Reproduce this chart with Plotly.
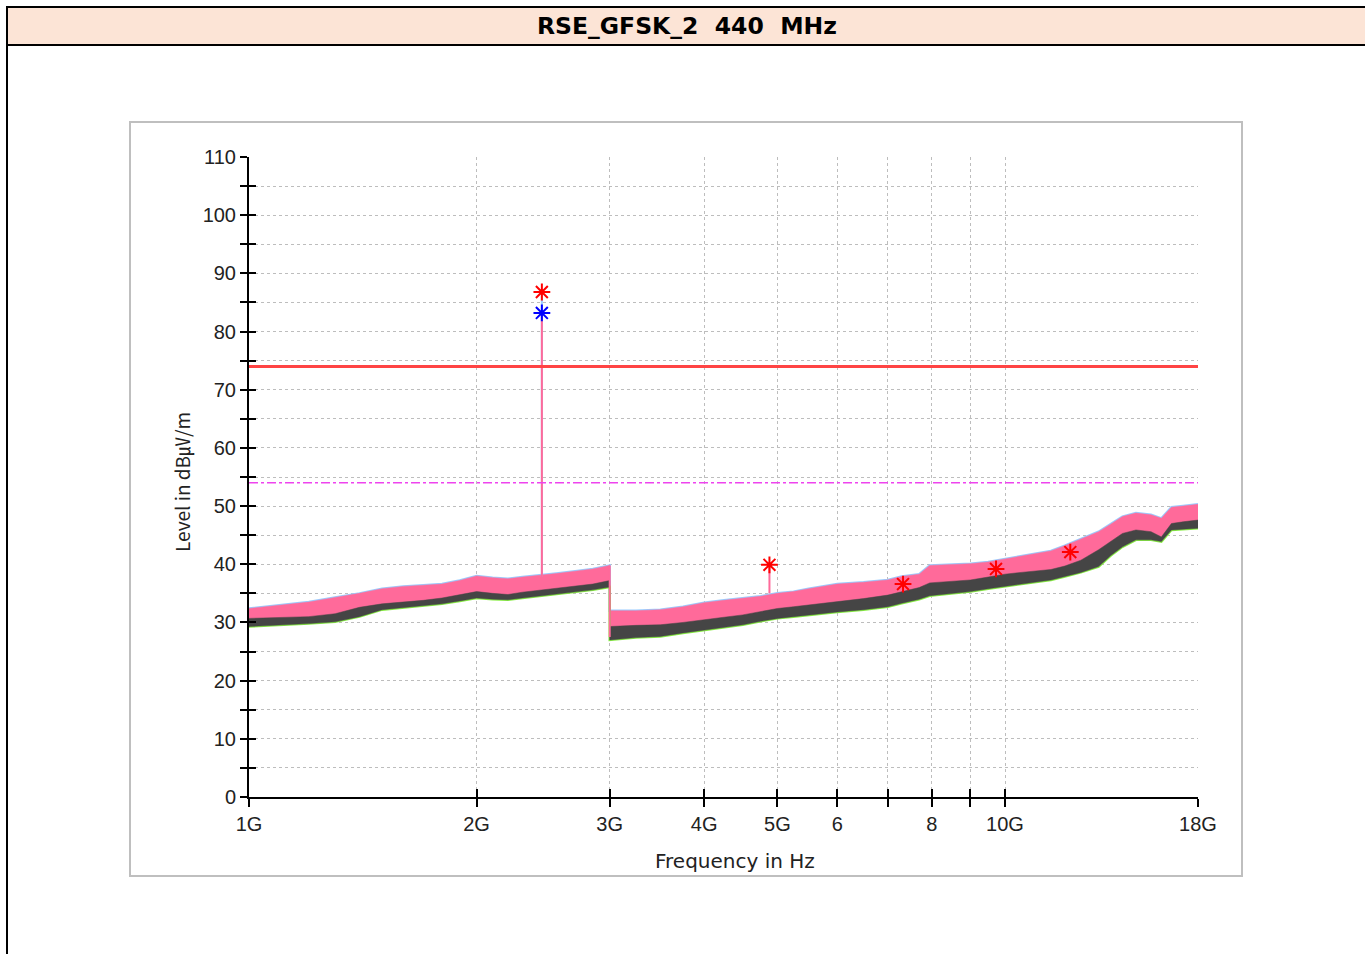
import math
import plotly.graph_objects as go

# ---------------- data (frequencies in GHz, levels in dBuV/m) ----------------
freq_a = [1.0, 1.1, 1.2, 1.3, 1.4, 1.5, 1.6, 1.7, 1.8, 1.9, 2.0, 2.1, 2.2, 2.3, 2.44, 2.55, 2.7, 2.85, 3.0]
peak_hi_a = [32.4, 33.0, 33.5, 34.3, 35.0, 35.8, 36.2, 36.4, 36.6, 37.2, 38.0, 37.7, 37.5, 37.8, 38.1, 38.4, 38.8, 39.2, 39.8]
avg_hi_a = [30.7, 30.8, 31.0, 31.5, 32.6, 33.2, 33.5, 33.8, 34.2, 34.8, 35.3, 35.0, 34.8, 35.2, 35.6, 35.9, 36.3, 36.6, 37.2]
avg_lo_a = [29.3, 29.5, 29.8, 30.1, 31.0, 32.2, 32.6, 32.9, 33.2, 33.7, 34.2, 34.0, 33.9, 34.2, 34.6, 34.9, 35.3, 35.6, 36.1]

freq_b = [3.0, 3.25, 3.5, 3.75, 4.0, 4.25, 4.5, 4.75, 5.0, 5.25, 5.5, 6.0, 6.5, 7.0, 7.3, 7.7, 7.95,
          8.5, 9.0, 9.5, 10.0, 10.5, 11.0, 11.5, 12.0, 12.6, 13.3, 13.8, 14.3, 14.9, 15.6, 16.1, 16.6, 17.2, 18.0]
peak_hi_b = [32.0, 32.0, 32.2, 32.7, 33.4, 33.8, 34.2, 34.5, 35.0, 35.3, 35.8, 36.6, 36.9, 37.3, 37.9, 38.3, 39.8,
             40.0, 40.1, 40.4, 40.9, 41.4, 41.9, 42.3, 43.2, 44.4, 45.6, 46.9, 48.2, 48.8, 48.5, 47.9, 49.8, 50.0, 50.3]
avg_hi_b = [29.3, 29.5, 29.6, 30.0, 30.4, 30.9, 31.3, 31.8, 32.4, 32.7, 33.0, 33.6, 34.1, 34.7, 35.3, 36.0, 36.8,
            37.1, 37.3, 37.8, 38.3, 38.6, 38.8, 39.1, 39.7, 40.7, 42.5, 44.0, 45.3, 45.9, 45.6, 44.7, 47.0, 47.3, 47.6]
avg_lo_b = [27.0, 27.4, 27.6, 28.2, 28.7, 29.2, 29.6, 30.2, 30.7, 31.0, 31.3, 31.8, 32.2, 32.7, 33.3, 34.0, 34.6,
            35.0, 35.3, 35.8, 36.2, 36.5, 36.9, 37.3, 37.9, 38.6, 39.6, 41.5, 43.0, 44.2, 44.2, 43.9, 45.9, 46.0, 46.2]

# band-edge drop at 3 GHz
drop_freq = [3.0, 3.0]
drop_levels = [39.8, 27.5]

# carrier spike (2.44 GHz) and harmonic spike (4.88 GHz)
spike_blue_freq = [2.44, 2.44]
spike_blue_levels = [37.8, 86.8]
spike_pink_freq = [2.44, 2.44]
spike_pink_levels = [37.8, 83.2]
spike2_freq = [4.88, 4.88]
spike2_levels = [35.0, 39.9]

# markers
peak_marker_freqs = [2.44, 4.88, 7.33, 9.73, 12.2]
peak_marker_levels = [86.8, 39.9, 36.6, 39.2, 42.1]
avg_marker_freqs = [2.44]
avg_marker_levels = [83.2]

# limits
limit_freqs = [1.0, 18.0]
limit_peak = [74, 74]
limit_avg = [54, 54]

# ticks
x_tick_vals = [1, 2, 3, 4, 5, 6, 7, 8, 9, 10, 18]
x_tick_text = ["1G", "2G", "3G", "4G", "5G", "6", "", "8", "", "10G", "18G"]
y_tick_vals = list(range(0, 111, 5))
y_tick_text = [str(v) if v % 10 == 0 else "" for v in y_tick_vals]

# ---------------- layout geometry (pixels) ----------------
W, H = 1365, 954
PL, PR, PT, PB = 249, 1198, 157, 797


def px(xp):
    return (xp - PL) / (PR - PL)


def py(yp):
    return (PB - yp) / (PB - PT)


freq = freq_a + freq_b
peak_hi = peak_hi_a + peak_hi_b
avg_hi = avg_hi_a + avg_hi_b
avg_lo = avg_lo_a + avg_lo_b

PINK = "#FF6A9A"
LBLUE = "#99CCFF"
GREY = "#454545"
GREEN = "#88EE44"

fig = go.Figure()

# light blue peak trace fringe
fig.add_trace(go.Scatter(x=freq, y=peak_hi, mode="lines", line=dict(color=LBLUE, width=2.5),
                         hoverinfo="skip", showlegend=False))
# pink peak band
fig.add_trace(go.Scatter(x=freq, y=avg_lo, mode="lines", line=dict(width=0, color=PINK),
                         hoverinfo="skip", showlegend=False))
fig.add_trace(go.Scatter(x=freq, y=peak_hi, mode="lines", line=dict(width=0.5, color=PINK),
                         fill="tonexty", fillcolor=PINK, hoverinfo="skip", showlegend=False))
# green average fringe
fig.add_trace(go.Scatter(x=freq, y=avg_lo, mode="lines", line=dict(color=GREEN, width=2.5),
                         hoverinfo="skip", showlegend=False))
# grey average band
fig.add_trace(go.Scatter(x=freq, y=avg_lo, mode="lines", line=dict(width=0.5, color=GREY),
                         hoverinfo="skip", showlegend=False))
fig.add_trace(go.Scatter(x=freq, y=avg_hi, mode="lines", line=dict(width=0.5, color=GREY),
                         fill="tonexty", fillcolor=GREY, hoverinfo="skip", showlegend=False))
# drop at 3 GHz
fig.add_trace(go.Scatter(x=drop_freq, y=drop_levels, mode="lines", line=dict(color=PINK, width=2),
                         hoverinfo="skip", showlegend=False))
# spikes
fig.add_trace(go.Scatter(x=spike_blue_freq, y=spike_blue_levels, mode="lines", line=dict(color=LBLUE, width=2),
                         hoverinfo="skip", showlegend=False))
fig.add_trace(go.Scatter(x=spike_pink_freq, y=spike_pink_levels, mode="lines", line=dict(color=PINK, width=2),
                         hoverinfo="skip", showlegend=False))
fig.add_trace(go.Scatter(x=spike2_freq, y=spike2_levels, mode="lines", line=dict(color=PINK, width=2),
                         hoverinfo="skip", showlegend=False))
# limits
fig.add_trace(go.Scatter(x=limit_freqs, y=limit_peak, mode="lines", line=dict(color="#FF4444", width=3),
                         hoverinfo="skip", showlegend=False))
fig.add_trace(go.Scatter(x=limit_freqs, y=limit_avg, mode="lines",
                         line=dict(color="#EE44EE", width=1.5, dash="dashdot"),
                         hoverinfo="skip", showlegend=False))
# markers
fig.add_trace(go.Scatter(x=peak_marker_freqs, y=peak_marker_levels, mode="markers",
                         marker=dict(symbol="asterisk-open", size=14, color="#FF0000",
                                     line=dict(color="#FF0000", width=2)),
                         hoverinfo="skip", showlegend=False))
fig.add_trace(go.Scatter(x=avg_marker_freqs, y=avg_marker_levels, mode="markers",
                         marker=dict(symbol="asterisk-open", size=14, color="#0000FF",
                                     line=dict(color="#0000FF", width=2)),
                         hoverinfo="skip", showlegend=False))
# empty trace on overlay axes (for crossing ticks)
fig.add_trace(go.Scatter(x=[], y=[], xaxis="x2", yaxis="y2", showlegend=False))

tick_font = dict(family="Liberation Sans, Arial, sans-serif", size=20, color="#222222")
xr = [0, math.log10(18)]

fig.update_layout(
    width=W, height=H,
    margin=dict(l=PL, r=W - PR, t=PT, b=H - PB),
    paper_bgcolor="white", plot_bgcolor="white",
    showlegend=False,
    xaxis=dict(type="log", range=xr, tickvals=x_tick_vals, ticktext=x_tick_text,
               ticks="outside", ticklen=8, tickwidth=2, tickcolor="black",
               showline=True, linecolor="black", linewidth=2, zeroline=False,
               showgrid=True, gridcolor="#BDBDBD", gridwidth=1, griddash="dot",
               tickfont=tick_font, fixedrange=True),
    yaxis=dict(range=[0, 110], tickvals=y_tick_vals, ticktext=y_tick_text,
               ticks="outside", ticklen=7, tickwidth=2, tickcolor="black",
               showline=True, linecolor="black", linewidth=2, zeroline=False,
               showgrid=True, gridcolor="#BDBDBD", gridwidth=1, griddash="dot",
               tickfont=tick_font, fixedrange=True),
    xaxis2=dict(type="log", range=xr, overlaying="x", anchor="y", side="bottom",
                tickvals=x_tick_vals, ticks="inside", ticklen=8, tickwidth=2, tickcolor="black",
                showticklabels=False, showgrid=False, showline=False, zeroline=False),
    yaxis2=dict(range=[0, 110], overlaying="y", anchor="x", side="left",
                tickvals=y_tick_vals, ticks="inside", ticklen=7, tickwidth=2, tickcolor="black",
                showticklabels=False, showgrid=False, showline=False, zeroline=False),
    shapes=[
        # title bar
        dict(type="rect", xref="paper", yref="paper", x0=px(7), x1=px(1368), y0=py(45), y1=py(7),
             fillcolor="#FCE4D6", line=dict(color="black", width=2), layer="below"),
        # left frame line
        dict(type="line", xref="paper", yref="paper", x0=px(7), x1=px(7), y0=py(45), y1=py(960),
             line=dict(color="black", width=2)),
        # chart panel
        dict(type="rect", xref="paper", yref="paper", x0=px(130), x1=px(1242), y0=py(876), y1=py(122),
             fillcolor="rgba(0,0,0,0)", line=dict(color="#BFBFBF", width=2), layer="below"),
    ],
    annotations=[
        dict(text="RSE_GFSK_2  440  MHz", xref="paper", yref="paper", x=px(687), y=py(26),
             showarrow=False, xanchor="center", yanchor="middle",
             font=dict(family="DejaVu Sans, sans-serif", size=23.5, color="black", weight="bold")),
        dict(text="Frequency in Hz", xref="paper", yref="paper", x=px(735), y=py(861),
             showarrow=False, xanchor="center", yanchor="middle",
             font=dict(family="DejaVu Sans, sans-serif", size=20, color="#222222")),
        dict(text="Level in dB㎶/m", xref="paper", yref="paper", x=px(181), y=py(482),
             showarrow=False, xanchor="center", yanchor="middle", textangle=-90,
             font=dict(family="Noto Sans CJK KR, Liberation Sans, sans-serif", size=19, color="#222222")),
    ],
)

fig.write_html("out.html", config={"displayModeBar": False},
               post_script="document.body.style.margin='0';")
